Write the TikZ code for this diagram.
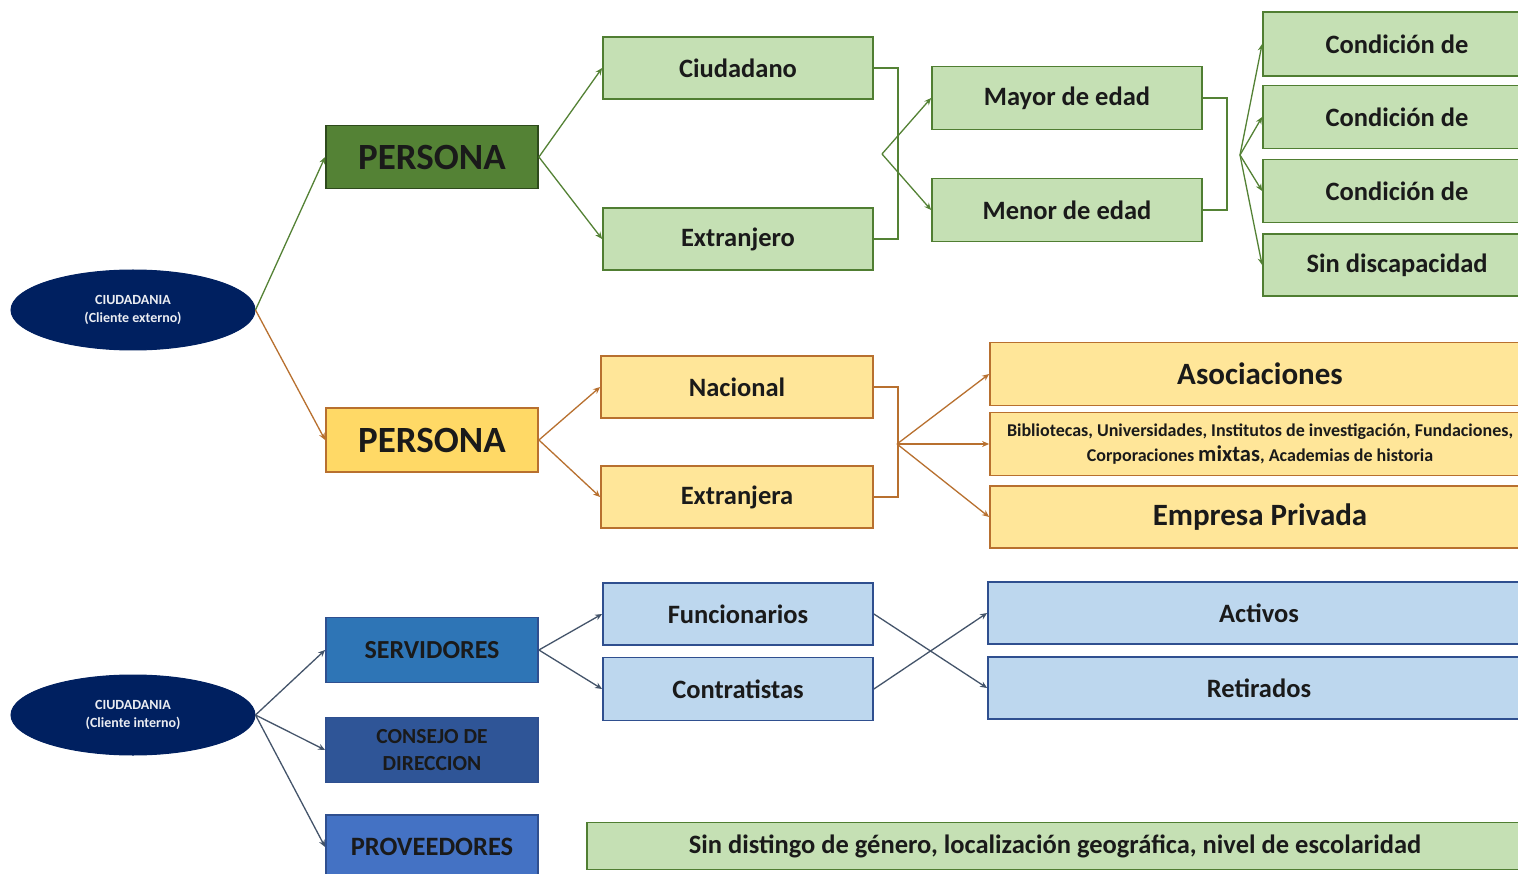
\documentclass[tikz,border=0pt]{standalone}
\usepackage{fontspec}
\setmainfont{Carlito}
\usetikzlibrary{shapes.geometric,arrows.meta}
\definecolor{gfill}{HTML}{C5E0B4}
\definecolor{gline}{HTML}{507E32}
\definecolor{gdark}{HTML}{548235}
\definecolor{gdline}{HTML}{2E4A1C}
\definecolor{yfill}{HTML}{FFE699}
\definecolor{ydark}{HTML}{FFD966}
\definecolor{yline}{HTML}{B8702F}
\definecolor{bfill}{HTML}{BDD7EE}
\definecolor{bline}{HTML}{2F4F8F}
\definecolor{bconn}{HTML}{44546A}
\definecolor{navy}{HTML}{002060}
\definecolor{serv}{HTML}{2E75B6}
\definecolor{cons}{HTML}{2F5597}
\definecolor{prov}{HTML}{4472C4}
\definecolor{txt}{HTML}{1A1A1A}
\tikzset{
  box/.style={rectangle, line width=1.8pt, inner sep=2pt, align=center, text=txt, font=\bfseries},
  gbox/.style={box, draw=gline, fill=gfill},
  ybox/.style={box, draw=yline, fill=yfill},
  bbox/.style={box, draw=bline, fill=bfill},
  ell/.style={ellipse, fill=navy, draw=navy, line width=1pt, minimum width=244pt, minimum height=80pt, inner sep=0pt, align=center, text=white!92!navy, font=\bfseries\fontsize{14}{18}\selectfont},
  tip/.style={-{Stealth[length=7pt,width=6pt]}},
  gconn/.style={draw=gdark, line width=1.3pt},
  yconn/.style={draw=yline, line width=1.3pt},
  bconnst/.style={draw=bconn, line width=1.3pt},
  fA/.style={font=\bfseries\fontsize{26.5}{30}\selectfont},
  fP/.style={font=\bfseries\fontsize{37}{40}\selectfont},
  fB/.style={font=\bfseries\fontsize{31}{34}\selectfont},
}
\begin{document}
\begin{tikzpicture}[x=1pt,y=-1pt]
\clip (0,0) rectangle (1518,874);
\fill[white] (0,0) rectangle (1518,874);

% ellipses
\node[ell] (ce) at (133,310) {CIUDADANIA\\(Cliente externo)};
\node[ell] (ci) at (133,715) {CIUDADANIA\\(Cliente interno)};

% level 1
\node[box, fP, draw=gdline, fill=gdark, minimum width=212pt, minimum height=63pt] (pg) at (432,157) {PERSONA};
\node[box, fP, draw=yline, fill=ydark, minimum width=212pt, minimum height=64pt] (py) at (432,440) {PERSONA};
\node[box, draw=bline, fill=serv, minimum width=212pt, minimum height=65pt, font=\bfseries\fontsize{26}{28}\selectfont] (sv) at (432,650) {SERVIDORES};
\node[box, draw=bline, fill=cons, minimum width=212pt, minimum height=65pt, font=\bfseries\fontsize{21.5}{27}\selectfont] (cd) at (432,750) {CONSEJO DE\\DIRECCION};
\node[box, draw=bline, fill=prov, minimum width=212pt, minimum height=64pt, font=\bfseries\fontsize{26.5}{29}\selectfont] (pv) at (432,847) {PROVEEDORES};

% level 2 green
\node[gbox, fA, minimum width=270pt, minimum height=62pt] (ciud) at (738,68) {Ciudadano};
\node[gbox, fA, minimum width=270pt, minimum height=62pt] (extr) at (738,239) {Extranjero};
\node[gbox, fA, minimum width=270pt, minimum height=63pt] (may) at (1067,98) {Mayor de edad};
\node[gbox, fA, minimum width=270pt, minimum height=63pt] (men) at (1067,210) {Menor de edad};
\node[gbox, fA, minimum width=268pt, minimum height=64pt] (c1) at (1397,44) {Condición de};
\node[gbox, fA, minimum width=268pt, minimum height=63pt] (c2) at (1397,117) {Condición de};
\node[gbox, fA, minimum width=268pt, minimum height=63pt] (c3) at (1397,191) {Condición de};
\node[gbox, fA, minimum width=268pt, minimum height=62pt] (c4) at (1397,265) {Sin discapacidad};

% yellow
\node[ybox, fA, minimum width=272pt, minimum height=62pt] (nac) at (737,387) {Nacional};
\node[ybox, fA, minimum width=272pt, minimum height=62pt] (exa) at (737,497) {Extranjera};
\node[ybox, fB, minimum width=540pt, minimum height=63pt] (aso) at (1260,374) {Asociaciones};
\node[ybox, minimum width=540pt, minimum height=63pt, font=\bfseries\fontsize{18}{25}\selectfont] (bib) at (1260,444) {Bibliotecas, Universidades, Institutos de investigación, Fundaciones,\\Corporaciones {\fontsize{22.5}{25}\selectfont mixtas}, Academias de historia};
\node[ybox, fB, minimum width=540pt, minimum height=62pt] (emp) at (1260,517) {Empresa Privada};

% blue
\node[bbox, fA, minimum width=270pt, minimum height=62pt] (fun) at (738,614) {Funcionarios};
\node[bbox, fA, minimum width=270pt, minimum height=63pt] (con) at (738,689) {Contratistas};
\node[bbox, fA, minimum width=542pt, minimum height=62pt] (act) at (1259,613) {Activos};
\node[bbox, fA, minimum width=542pt, minimum height=62pt] (ret) at (1259,688) {Retirados};

% bottom
\node[gbox, fA, minimum width=936pt, minimum height=47pt] (sd) at (1055,846) {Sin distingo de género, localización geográfica, nivel de escolaridad};

% connectors green
\draw[gconn, tip] (ce.east) -- (pg.west);
\draw[yconn, tip] (ce.east) -- (py.west);
\draw[gconn, tip] (pg.east) -- (ciud.west);
\draw[gconn, tip] (pg.east) -- (extr.west);
\draw[gconn] (ciud.east) -- ++(24,0) |- (extr.east);
\coordinate (j1) at (882,154);
\draw[gconn, tip] (j1) -- (may.west);
\draw[gconn, tip] (j1) -- (men.west);
\draw[gconn] (may.east) -- ++(24,0) |- (men.east);
\coordinate (j2) at (1240,155);
\foreach \c in {c1,c2,c3,c4} \draw[gconn, tip] (j2) -- (\c.west);

% connectors yellow
\draw[yconn, tip] (py.east) -- (nac.west);
\draw[yconn, tip] (py.east) -- (exa.west);
\draw[yconn] (nac.east) -- ++(24,0) |- (exa.east);
\coordinate (j3) at (897,444);
\draw[yconn, tip] (j3) -- (aso.west);
\draw[yconn, tip] (j3) -- (bib.west);
\draw[yconn, tip] (j3) -- (emp.west);

% connectors blue
\draw[bconnst, tip] (ci.east) -- (sv.west);
\draw[bconnst, tip] (ci.east) -- (cd.west);
\draw[bconnst, tip] (ci.east) -- (pv.west);
\draw[bconnst, tip] (sv.east) -- (fun.west);
\draw[bconnst, tip] (sv.east) -- (con.west);
\draw[bconnst, tip] (fun.east) -- (ret.west);
\draw[bconnst, tip] (con.east) -- (act.west);
\end{tikzpicture}
\end{document}
